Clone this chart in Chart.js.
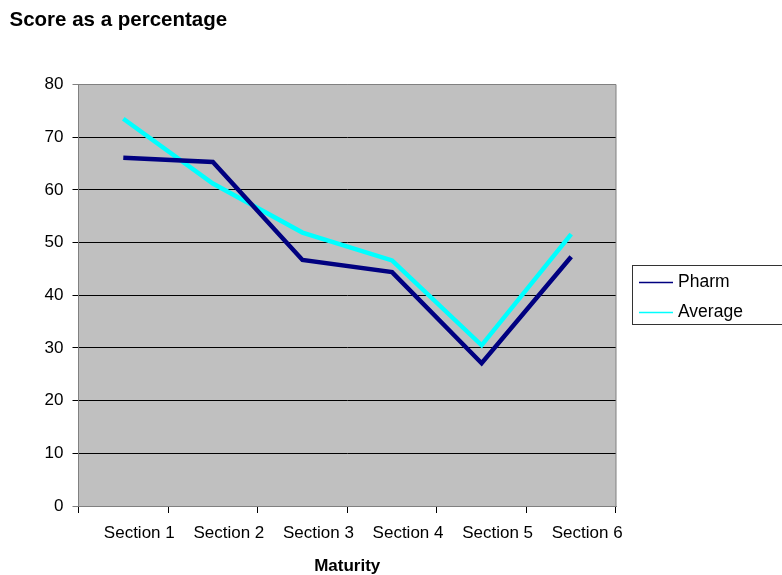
<!DOCTYPE html>
<html><head><meta charset="utf-8">
<script src="https://cdn.jsdelivr.net/npm/chart.js@4/dist/chart.umd.min.js"></script>
<style>html,body{margin:0;padding:0;background:#fff}#wrap{width:782px;height:575px;position:relative}</style>
</head><body><div id="wrap"><canvas id="c" width="782" height="575"></canvas></div>
<script>
const chartTitle = 'Score as a percentage';
const xAxisTitle = 'Maturity';
const categories = ['Section 1', 'Section 2', 'Section 3', 'Section 4', 'Section 5', 'Section 6'];
const pharm = [66.1, 65.3, 46.7, 44.4, 27.1, 47.3];
const average = [73.5, 61.2, 51.9, 46.6, 30.5, 51.6];
const yTicks = [0, 10, 20, 30, 40, 50, 60, 70, 80];
const seriesNames = ['Pharm', 'Average'];

const FONT = "'Liberation Sans', Arial, Helvetica, sans-serif";

const bgPlugin = {
  id: 'bg',
  beforeDraw(chart) {
    const {ctx, chartArea: a} = chart;
    ctx.save();
    ctx.fillStyle = '#fff';
    ctx.fillRect(0, 0, chart.width, chart.height);
    ctx.fillStyle = '#C0C0C0';
    ctx.fillRect(a.left, a.top, a.right - a.left, a.bottom - a.top);
    ctx.restore();
  },
  beforeDatasetsDraw(chart) {
    const {ctx, chartArea: a} = chart;
    ctx.save();
    ctx.strokeStyle = '#808080';
    ctx.lineWidth = 1;
    ctx.beginPath();
    ctx.moveTo(a.right, a.top);
    ctx.lineTo(a.right, a.bottom);
    ctx.moveTo(a.left, a.top);
    ctx.lineTo(a.right, a.top);
    ctx.stroke();
    ctx.restore();
  },
  afterDraw(chart) {
    const {ctx} = chart;
    ctx.save();
    // title
    ctx.fillStyle = '#000';
    ctx.font = 'bold 20.5px ' + FONT;
    ctx.textBaseline = 'alphabetic';
    ctx.textAlign = 'left';
    ctx.fillText(chartTitle, 9.5, 25.5);
    // legend
    ctx.strokeStyle = '#333';
    ctx.lineWidth = 1;
    ctx.strokeRect(632.5, 265.5, 160, 59);
    ctx.font = '17.5px ' + FONT;
    ctx.textBaseline = 'middle';
    const ys = [282.5, 312.5];
    chart.data.datasets.forEach((ds, i) => {
      ctx.strokeStyle = ds.borderColor;
      ctx.lineWidth = 1.5;
      ctx.beginPath();
      ctx.moveTo(639, ys[i]);
      ctx.lineTo(673, ys[i]);
      ctx.stroke();
      ctx.fillStyle = '#000';
      ctx.fillText(ds.label, 678, ys[i] - 0.5);
    });
    ctx.restore();
  }
};

new Chart(document.getElementById('c'), {
  type: 'line',
  data: {
    labels: categories,
    datasets: [
      {label: seriesNames[0], data: pharm, borderColor: '#000080', backgroundColor: '#000080', borderWidth: 4.5, pointRadius: 0, tension: 0, fill: false},
      {label: seriesNames[1], data: average, borderColor: '#00FFFF', backgroundColor: '#00FFFF', borderWidth: 4.5, pointRadius: 0, tension: 0, fill: false}
    ]
  },
  options: {
    responsive: false,
    devicePixelRatio: 1,
    animation: false,
    layout: {padding: {left: 0, top: 84.5, right: 166, bottom: 0}},
    plugins: {legend: {display: false}, title: {display: false}, tooltip: {enabled: false}},
    scales: {
      x: {
        type: 'category',
        offset: true,
        grid: {offset: true, drawOnChartArea: false, drawTicks: true, tickLength: 7, color: '#000', lineWidth: 1},
        border: {color: '#808080', width: 1},
        ticks: {labelOffset: 16, padding: 10, maxRotation: 0, autoSkip: false, color: '#000', font: {family: FONT, size: 17}},
        title: {display: true, text: xAxisTitle, color: '#000', font: {family: FONT, size: 17, weight: 'bold', lineHeight: 1.0}, padding: {top: 0, bottom: 0}},
        afterFit(scale) { scale.height = 69; }
      },
      y: {
        min: 0, max: 80,
        afterBuildTicks(scale) { scale.ticks = yTicks.map(v => ({value: v})); },
        grid: {color: (c) => (c.tick && (c.tick.value === 0 || c.tick.value === 80)) ? '#808080' : '#000', tickLength: 6, lineWidth: 1},
        border: {color: '#808080', width: 1},
        ticks: {padding: 9, color: '#000', font: {family: FONT, size: 17}},
        afterFit(scale) { scale.width = 78.5; }
      }
    }
  },
  plugins: [bgPlugin]
});
</script>
</body></html>
